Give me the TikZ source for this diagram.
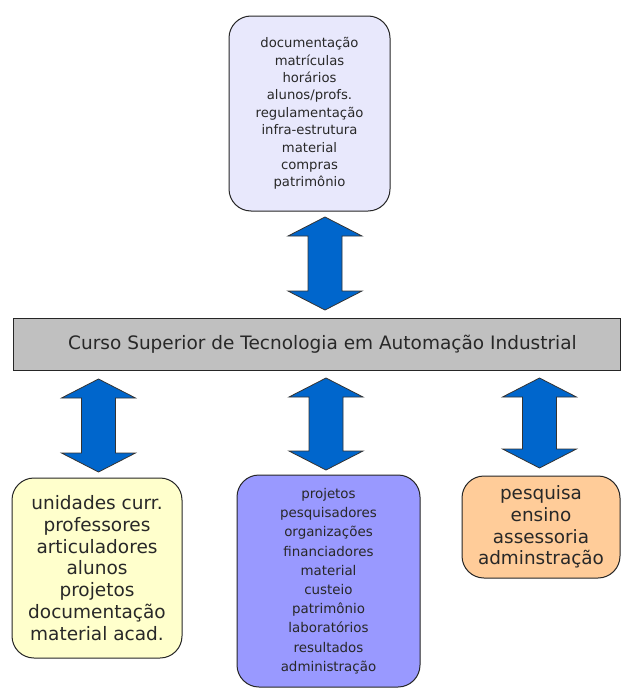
\documentclass[tikz,border=0pt]{standalone}
\usepackage{fontspec}
\setmainfont{DejaVu Sans}
\definecolor{lavbox}{RGB}{232,232,252}
\definecolor{yelbox}{RGB}{255,255,204}
\definecolor{purbox}{RGB}{153,153,255}
\definecolor{orabox}{RGB}{255,204,153}
\definecolor{barfill}{RGB}{192,192,192}
\definecolor{arrblue}{RGB}{0,102,204}
\definecolor{txt}{RGB}{40,40,40}
\newcommand\blockarrow[3]{%
  \draw[blockarr] (#1,#2) -- (#1+37,#2+19) -- (#1+17,#2+19) -- (#1+17,#3-19)
    -- (#1+37,#3-19) -- (#1,#3) -- (#1-37,#3-19) -- (#1-17,#3-19)
    -- (#1-17,#2+19) -- (#1-37,#2+19) -- cycle;}
\begin{document}
\begin{tikzpicture}[x=1pt,y=-1pt,
  box/.style={draw=black!85, line width=1pt, rounded corners=22pt, align=center,
              inner sep=0pt, text=txt},
  blockarr/.style={draw=black!80, line width=0.8pt, fill=arrblue, line join=miter}]
\fill[white] (0,0) rectangle (624,688);
\useasboundingbox (0,0) rectangle (624,688);

\node[box, fill=lavbox, minimum width=161pt, minimum height=195pt,
      font=\fontsize{13.2}{17.4}\selectfont] (admin) at (309.5,113.5)
  {documentação\\matrículas\\horários\\alunos/profs.\\regulamentação\\infra-estrutura\\material\\compras\\patrimônio};

\node[draw=black!85, line width=1pt, fill=barfill, minimum width=607pt, minimum height=52pt,
      inner sep=0pt, text=txt, font=\fontsize{18.5}{22}\selectfont] (curso) at (316.5,344)
  {\hspace*{12pt}Curso Superior de Tecnologia em Automação Industrial};

\node[box, fill=yelbox, minimum width=170pt, minimum height=180pt,
      font=\fontsize{18.5}{21.7}\selectfont] (ensino) at (97,568)
  {unidades curr.\\professores\\articuladores\\alunos\\projetos\\documentação\\material acad.};

\node[box, fill=purbox, minimum width=183pt, minimum height=212pt,
      font=\fontsize{13.4}{19.2}\selectfont] (pesq) at (328.5,581)
  {projetos\\pesquisadores\\organizações\\financiadores\\material\\custeio\\patrimônio\\laboratórios\\resultados\\administração};

\node[box, fill=orabox, minimum width=158pt, minimum height=102pt,
      font=\fontsize{18.4}{21.7}\selectfont] (ext) at (541,527)
  {pesquisa\\ensino\\assessoria\\adminstração};

\blockarrow{325}{217}{310}
\blockarrow{98.5}{379}{472}
\blockarrow{326}{378}{470}
\blockarrow{539.5}{378}{468}
\end{tikzpicture}
\end{document}
